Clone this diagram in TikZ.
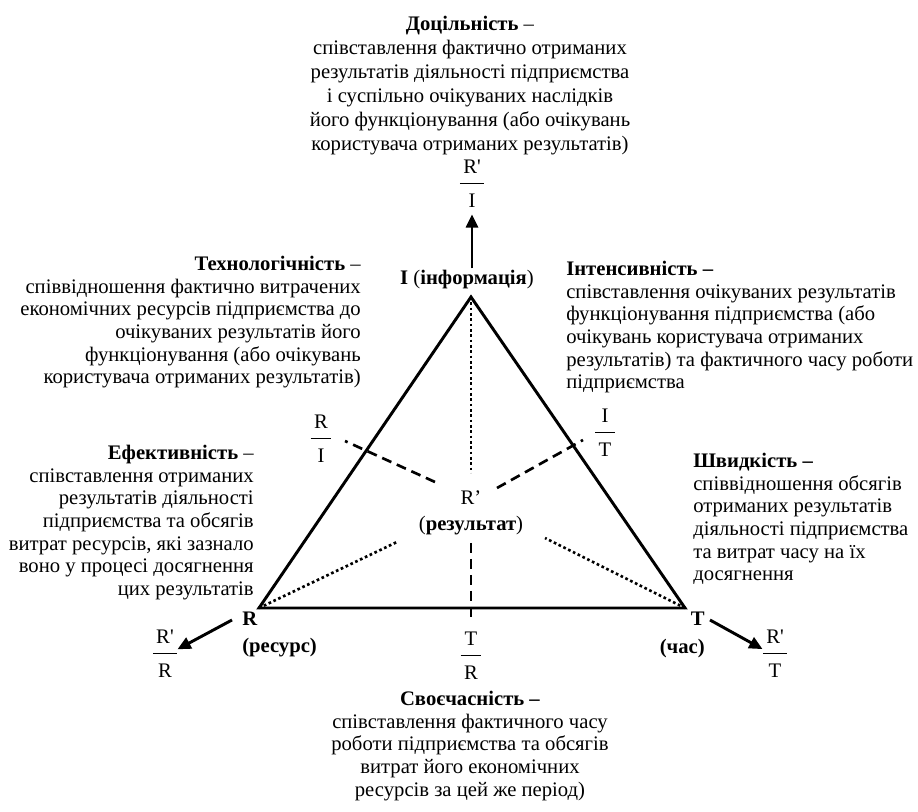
\documentclass[tikz,border=0pt]{standalone}
\usepackage{fontspec}
\setmainfont{Liberation Serif}
\usepackage{tikz}
\usetikzlibrary{arrows.meta, positioning, calc}

% fraction written as two lines with a bar between
\newcommand{\frc}[2]{\begin{tabular}{@{\,}c@{\,}}#1\\[1.6pt]\hline\rule{0pt}{18pt}#2\end{tabular}}
\newcommand{\rp}{R\textquotesingle}

\begin{document}
\begin{tikzpicture}[x=0.75pt, y=-0.75pt, >=Triangle,
    txt/.style={inner sep=0pt, font=\fontsize{15.5}{17}\selectfont},
    side/.style={line width=2.2pt},
    dotline/.style={line width=2pt, dotted},
    dashline/.style={line width=2pt, dash pattern=on 7.5pt off 4.5pt},
    arr/.style={->, line width=2.2pt, >={Triangle[length=10pt,width=9pt]}}]
  \useasboundingbox (0,0) rectangle (918,812);
  % vertices of the triangle
  \coordinate (I) at (471,297);
  \coordinate (R) at (259,608);
  \coordinate (T) at (685,608);
  \draw[side] (R) -- (I) -- (T) -- cycle;

  % centre
  \node[txt, align=center] (res) at (471,513) {R’\\[3pt](\textbf{результат})};
  \coordinate (dI) at (471,473);
  \coordinate (dR) at (397,542);
  \coordinate (dT) at (545,538);
  \draw[dotline] (I) -- (dI);
  \draw[dotline] (R) -- (dR);
  \draw[dotline] (T) -- (dT);
  % dashed ratios
  \coordinate (sL1) at (435,482);
  \coordinate (sL2) at (345,441);
  \coordinate (sR1) at (497,488);
  \coordinate (sR2) at (583,440);
  \coordinate (sB1) at (471,543);
  \coordinate (sB2) at (471,620);
  \draw[dashline] (sL1) -- (sL2);
  \draw[dashline] (sR1) -- (sR2);
  \draw[dashline] (sB1) -- (sB2);

  % vertex labels
  \node[txt, font=\fontsize{15.5}{17}\selectfont\bfseries] (inf) at (467,280)
    {I \textmd{(}інформація\textmd{)}};
  \node[txt, align=left, anchor=north west, font=\fontsize{15.5}{20}\selectfont\bfseries]
    (rlab) at (242,612) {R\\(ресурс)};
  \node[txt, align=right, anchor=north east, font=\fontsize{15.5}{21}\selectfont\bfseries]
    (tlab) at (705,612) {T\\(час)};

  % fractions
  \node[txt] (fI) at (472,186) {\frc{\rp}{I}};
  \node[txt] (fRI) at (321,441) {\frc{R}{I}};
  \node[txt] (fIT) at (605,435) {\frc{I}{T}};
  \node[txt] (fTR) at (471,658) {\frc{T}{R}};
  \node[txt] (fR) at (165,656) {\frc{\rp}{R}};
  \node[txt] (fT) at (775,656) {\frc{\rp}{T}};

  % arrows out of the vertices
  \coordinate (aR) at (232,620);
  \coordinate (aT) at (710,620);
  \draw[arr] ($(inf.north -| fI)+(0,-2)$) -- (fI);
  \draw[arr] (aR) -- (fR);
  \draw[arr] (aT) -- (fT);

  % descriptions
  \node[txt, align=center, anchor=north, font=\fontsize{15.5}{18}\selectfont] (doc) at (470,16)
    {\textbf{Доцільність} –\\
     співставлення фактично отриманих\\
     результатів діяльності підприємства\\
     і суспільно очікуваних наслідків\\
     його функціонування (або очікувань\\
     користувача отриманих результатів)};
  \node[txt, align=right, anchor=north east] (tech) at (361,256)
    {\textbf{Технологічність} –\\
     співвідношення фактично витрачених\\
     економічних ресурсів підприємства до\\
     очікуваних результатів його\\
     функціонування (або очікувань\\
     користувача отриманих результатів)};
  \node[txt, align=left, anchor=north west] (int) at (566,261)
    {\textbf{Інтенсивність –}\\
     співставлення очікуваних результатів\\
     функціонування підприємства (або\\
     очікувань користувача отриманих\\
     результатів) та фактичного часу роботи\\
     підприємства};
  \node[txt, align=right, anchor=north east] (eff) at (254,445)
    {\textbf{Ефективність} –\\
     співставлення отриманих\\
     результатів діяльності\\
     підприємства та обсягів\\
     витрат ресурсів, які зазнало\\
     воно у процесі досягнення\\
     цих результатів};
  \node[txt, align=left, anchor=north west] (shv) at (693,453)
    {\textbf{Швидкість –}\\
     співвідношення обсягів\\
     отриманих результатів\\
     діяльності підприємства\\
     та витрат часу на їх\\
     досягнення};
  \node[txt, align=center, anchor=north] (svo) at (470,691)
    {\textbf{Своєчасність –}\\
     співставлення фактичного часу\\
     роботи підприємства та обсягів\\
     витрат його економічних\\
     ресурсів за цей же період)};
\end{tikzpicture}
\end{document}
